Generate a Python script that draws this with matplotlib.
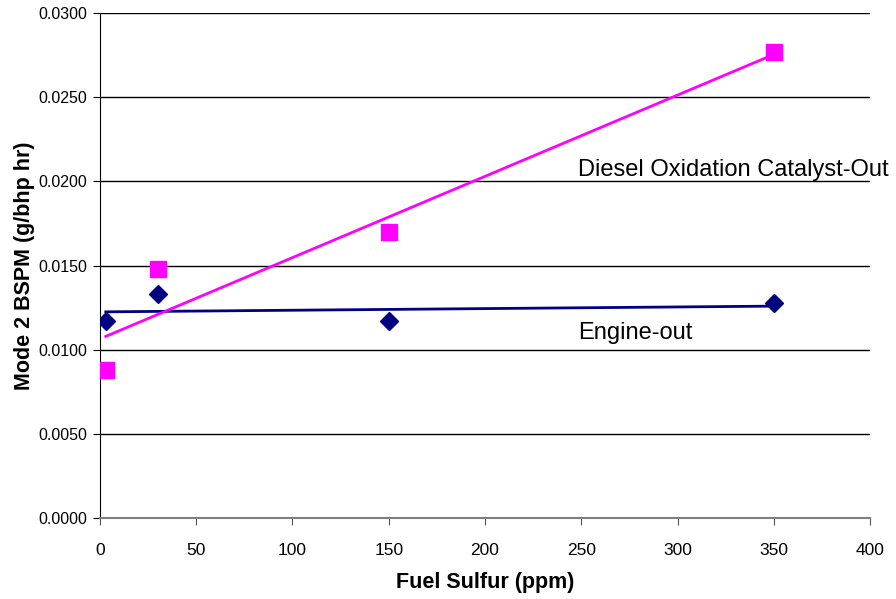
import numpy as np
import matplotlib
matplotlib.use("Agg")
import matplotlib.pyplot as plt
from matplotlib.ticker import FormatStrFormatter

plt.rcParams['font.family'] = ['Liberation Sans', 'DejaVu Sans']

sulfur = [3, 30, 150, 350]
engine_out = [0.0117, 0.0133, 0.0117, 0.0128]
doc_out = [0.0088, 0.0148, 0.0170, 0.0277]

fig = plt.figure(figsize=(8.96, 5.99), dpi=100)
ax = fig.add_axes([0.1116, 0.1352, 0.8594, 0.8431])

# trend lines (linear fits)
xs = np.array([min(sulfur), max(sulfur)])
pe = np.polyfit(sulfur, engine_out, 1)
pd_ = np.polyfit(sulfur, doc_out, 1)
ax.plot(xs, np.polyval(pe, xs), color='#000080', lw=2, zorder=3)
ax.plot(xs, np.polyval(pd_, xs), color='#FF00FF', lw=2, zorder=3)

ax.plot(sulfur, engine_out, linestyle='none', marker='D', markersize=9,
        color='#000080', zorder=4)
ax.plot(sulfur, doc_out, linestyle='none', marker='s', markersize=11.5,
        color='#FF00FF', zorder=4)

ax.set_xlim(0, 400)
ax.set_ylim(0, 0.03)
ax.set_xticks(np.arange(0, 401, 50))
ax.set_yticks(np.arange(0, 0.0301, 0.005))
ax.yaxis.set_major_formatter(FormatStrFormatter('%.4f'))
ax.grid(axis='y', color='black', lw=1, zorder=1)
ax.set_axisbelow(True)

for s in ['top', 'right']:
    ax.spines[s].set_visible(False)
ax.spines['left'].set_color('black')
ax.spines['bottom'].set_color('#808080')
ax.spines['bottom'].set_linewidth(1.5)
ax.tick_params(axis='both', direction='out', length=5)
ax.tick_params(axis='y', labelsize=11.5, pad=4)
ax.tick_params(axis='x', labelsize=12.5, colors='#555555', labelcolor='black', pad=13)

ax.set_xlabel('Fuel Sulfur (ppm)', fontsize=15.5, fontweight='bold', labelpad=10)
ax.set_ylabel('Mode 2 BSPM (g/bhp hr)', fontsize=15.5, fontweight='bold', labelpad=10)
ax.yaxis.set_label_coords(-0.085, 0.5)

ax.text(248.5, 0.0207, 'Diesel Oxidation Catalyst-Out', fontsize=17,
        va='center', ha='left', clip_on=False)
ax.text(248.5, 0.0110, 'Engine-out', fontsize=17, va='center', ha='left')

fig.savefig('out.png', dpi=100)
